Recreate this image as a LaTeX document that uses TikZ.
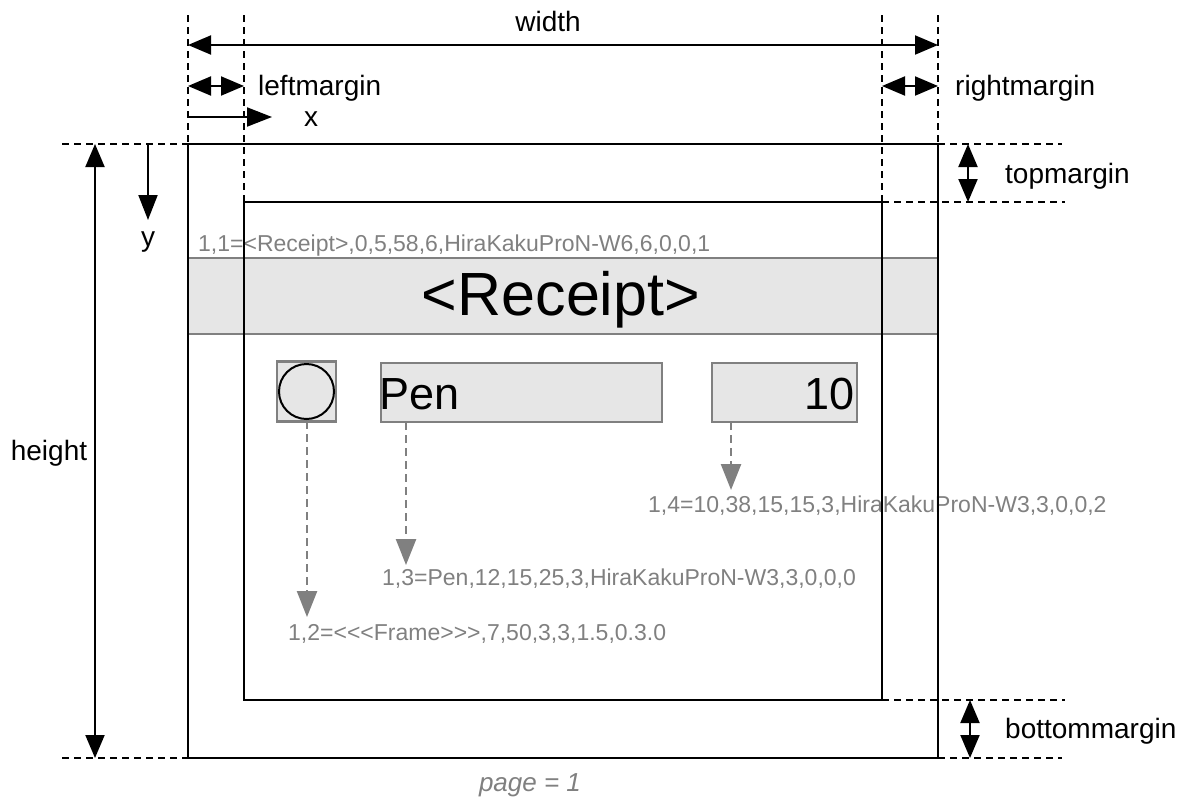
\documentclass[tikz,border=0pt]{standalone}
\usepackage{fontspec}
\setmainfont{Liberation Sans}
\usetikzlibrary{arrows.meta}
\definecolor{gtxt}{HTML}{808080}
\definecolor{bandfill}{HTML}{E6E6E6}
\definecolor{bandline}{HTML}{808080}
\begin{document}
\begin{tikzpicture}[x=1pt,y=-1pt,
  dim/.style={line width=2pt, {Triangle[length=23pt,width=19pt]}-{Triangle[length=23pt,width=19pt]}},
  dimone/.style={line width=2pt, -{Triangle[length=25pt,width=19pt]}},
  guide/.style={line width=1.8pt, dash pattern=on 7pt off 5pt},
  frameline/.style={line width=2pt},
  lbl/.style={font=\fontsize{28}{32}\selectfont, inner sep=0pt},
  glbl/.style={font=\fontsize{23}{27}\selectfont, text=gtxt, inner sep=0pt},
  gbox/.style={draw=bandline, fill=bandfill, line width=2.5pt, inner sep=0pt},
  garrow/.style={draw=gtxt, line width=2.5pt, dash pattern=on 8pt off 5pt, -{Triangle[length=26pt,width=20pt]}},
]
\useasboundingbox (0,0) rectangle (1189,801);

% corner coordinates
\coordinate (pTL) at (188,144);
\coordinate (pBR) at (938,758);
\coordinate (fTL) at (244,202);
\coordinate (fBR) at (882,700);

% title band
\node[gbox, minimum width=750pt, minimum height=76pt] (band) at (563,296) {};
\node[font=\fontsize{61}{66}\selectfont, inner sep=0pt, anchor=base] (rcpt) at (561,315) {<Receipt>};

% item boxes
\node[gbox, minimum width=59pt, minimum height=60pt] (cbox) at (306.5,391.5) {};
\node[draw=black, line width=2pt, circle, minimum size=55pt, inner sep=0pt] (circ) at (cbox.center) {};
\node[gbox, minimum width=281pt, minimum height=59pt] (penbox) at (521.5,392.5) {};
\node[font=\fontsize{45}{50}\selectfont, inner sep=0pt, anchor=base west] (pen) at (379,409) {Pen};
\node[gbox, minimum width=145pt, minimum height=59pt] (tenbox) at (784.5,392.5) {};
\node[font=\fontsize{45}{50}\selectfont, inner sep=0pt, anchor=base east] (ten) at (855,409) {10};

% gray labels
\node[glbl, anchor=base west] (l11) at (198,251) {1,1=<Receipt>,0,5,58,6,HiraKakuProN-W6,6,0,0,1};
\node[glbl, anchor=base west] (l14) at (648,512) {1,4=10,38,15,15,3,HiraKakuProN-W3,3,0,0,2};
\node[glbl, anchor=base west] (l13) at (382,585) {1,3=Pen,12,15,25,3,HiraKakuProN-W3,3,0,0,0};
\node[glbl, anchor=base west] (l12) at (288,640) {1,2=<\kern0pt<\kern0pt<Frame>\kern0pt>\kern0pt>,7,50,3,3,1.5,0.3.0};

% gray dashed arrows
\coordinate (a2s) at (307,421);
\coordinate (a2e) at (307,617);
\coordinate (a3s) at (406,422);
\coordinate (a3e) at (406,565);
\coordinate (a4s) at (731,422);
\coordinate (a4e) at (731,490);
\draw[garrow] (a2s) -- (a2e);
\draw[garrow] (a3s) -- (a3e);
\draw[garrow] (a4s) -- (a4e);

% page and frame rectangles
\draw[frameline] (pTL) rectangle (pBR);
\draw[frameline] (fTL) rectangle (fBR);

% guide lines
\coordinate (g1t) at (188,15);
\coordinate (g2t) at (244,15);
\coordinate (g3t) at (882,15);
\coordinate (g4t) at (938,15);
\coordinate (g2b) at (244,202);
\coordinate (g3b) at (882,202);
\draw[guide] (g1t) -- (pTL);
\draw[guide] (g2t) -- (g2b);
\draw[guide] (g3t) -- (g3b);
\draw[guide] (g4t) -- (pBR |- pTL);
\coordinate (h1l) at (62,144);
\coordinate (h1r) at (1062,144);
\coordinate (h2r) at (1065,202);
\coordinate (h3r) at (1065,700);
\coordinate (h4l) at (62,758);
\coordinate (h4r) at (1062,758);
\draw[guide] (h1l) -- (pTL);
\draw[guide] (pBR |- pTL) -- (h1r);
\draw[guide] (g3b) -- (h2r);
\draw[guide] (fBR) -- (h3r);
\draw[guide] (h4l) -- (pTL |- pBR);
\draw[guide] (pBR) -- (h4r);

% dimension arrows
\coordinate (wl) at (188,45);
\coordinate (wr) at (938,45);
\draw[dim] (wl) -- (wr);
\node[lbl, anchor=base] (wlab) at (548,31) {width};

\coordinate (lml) at (188,86);
\coordinate (lmr) at (244,86);
\draw[dim] (lml) -- (lmr);
\node[lbl, anchor=base west] (lmlab) at (258,95) {leftmargin};

\coordinate (xl) at (188,117);
\coordinate (xr) at (272,117);
\draw[dimone] (xl) -- (xr);
\node[lbl, anchor=base] (xlab) at (311,126) {x};

\coordinate (rml) at (882,86);
\coordinate (rmr) at (938,86);
\draw[dim] (rml) -- (rmr);
\node[lbl, anchor=base west] (rmlab) at (955,95) {rightmargin};

\coordinate (yt) at (148,144);
\coordinate (yb) at (148,220);
\draw[dimone] (yt) -- (yb);
\node[lbl, anchor=base] (ylab) at (148,246) {y};

\coordinate (ht) at (95,144);
\coordinate (hb) at (95,758);
\draw[dim] (ht) -- (hb);
\node[lbl, anchor=base] (hlab) at (49,460) {height};

\coordinate (tmt) at (968,144);
\coordinate (tmb) at (968,202);
\draw[dim] (tmt) -- (tmb);
\node[lbl, anchor=base west] (tmlab) at (1005,183) {topmargin};

\coordinate (bmt) at (970,700);
\coordinate (bmb) at (970,758);
\draw[dim] (bmt) -- (bmb);
\node[lbl, anchor=base west] (bmlab) at (1005,738) {bottommargin};

\node[font=\fontsize{26}{30}\selectfont\itshape, text=gtxt, inner sep=0pt, anchor=base] (pg) at (530,791) {page = 1};
\end{tikzpicture}
\end{document}
